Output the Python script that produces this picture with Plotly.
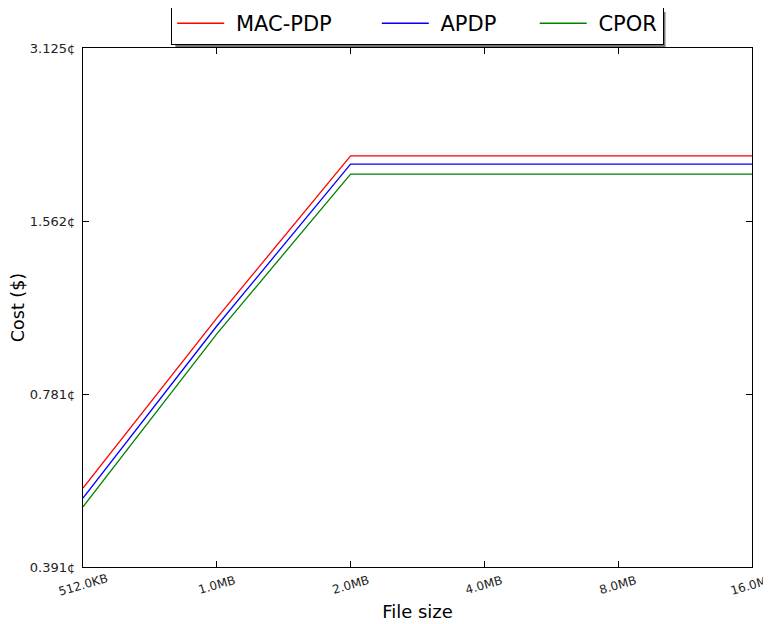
import math
import plotly.graph_objects as go

# file sizes in KB, costs in cents
file_kb = [512, 1024, 2048, 4096, 8192, 16384]
x_labels = ["512.0KB", "1.0MB", "2.0MB", "4.0MB", "8.0MB", "16.0MB"]

mac_pdp = [0.536, 1.059, 2.028, 2.028, 2.028, 2.028]
apdp = [0.515, 1.026, 1.963, 1.963, 1.963, 1.963]
cpor = [0.497, 0.994, 1.886, 1.886, 1.886, 1.886]

y_ticks = [0.390625, 0.78125, 1.5625, 3.125]
y_labels = ["0.391¢", "0.781¢", "1.562¢", "3.125¢"]

nb = "\u00a0"  # spacing in legend names to mimic matplotlib column gaps
series = [(nb + "MAC-PDP" + nb * 6, mac_pdp, "#ff0000"),
          (nb + "APDP" + nb * 5, apdp, "#0000ff"),
          (nb + "CPOR", cpor, "#008000")]

fig = go.Figure()
for name, vals, col in series:
    fig.add_trace(go.Scatter(x=file_kb, y=vals, mode="lines", name=name,
                             line=dict(color=col, width=1.3)))

axis_style = dict(showline=True, linecolor="black", linewidth=1.2, mirror="ticks",
                  ticks="inside", ticklen=6, tickcolor="black", showgrid=False,
                  zeroline=False)

x_range = [math.log10(file_kb[0]), math.log10(file_kb[-1])]
y_range = [math.log10(y_ticks[0]), math.log10(y_ticks[-1])]

fig.update_xaxes(type="log", range=x_range, tickvals=file_kb,
                 showticklabels=False,
                 title=dict(text="File size", font=dict(size=18), standoff=38),
                 **axis_style)
fig.update_yaxes(type="log", range=y_range, tickvals=y_ticks,
                 ticktext=y_labels, ticklabelstandoff=4,
                 tickfont=dict(size=13, color="#222"),
                 title=dict(text="Cost ($)", font=dict(size=17.5), standoff=8),
                 **axis_style)

# rotated x tick labels, centred under each tick
for kb, lab in zip(file_kb, x_labels):
    fig.add_annotation(x=math.log10(kb), xref="x", y=0, yref="paper", text=lab,
                       showarrow=False, textangle=-16, xanchor="center",
                       yanchor="middle", yshift=-18,
                       font=dict(size=12, color="#222"))

# legend shadow
fig.add_shape(type="rect", xref="paper", yref="paper",
              x0=0.138, x1=0.8707, y0=1.0, y1=1.0694,
              fillcolor="#777", line_width=0, layer="below")

# page body has an 8px margin, so the figure is a bit smaller than the window
fig.update_layout(
    width=763, height=616,
    margin=dict(l=75, r=19, t=40, b=57, autoexpand=False),
    plot_bgcolor="white", paper_bgcolor="white",
    font=dict(family="DejaVu Sans", color="black"),
    legend=dict(orientation="h", x=0.5, xanchor="center", y=1.006, yanchor="bottom",
                bgcolor="white", bordercolor="black", borderwidth=1.2,
                font=dict(size=21), itemwidth=47, tracegroupgap=0),
)

fig.write_html("out.html")
